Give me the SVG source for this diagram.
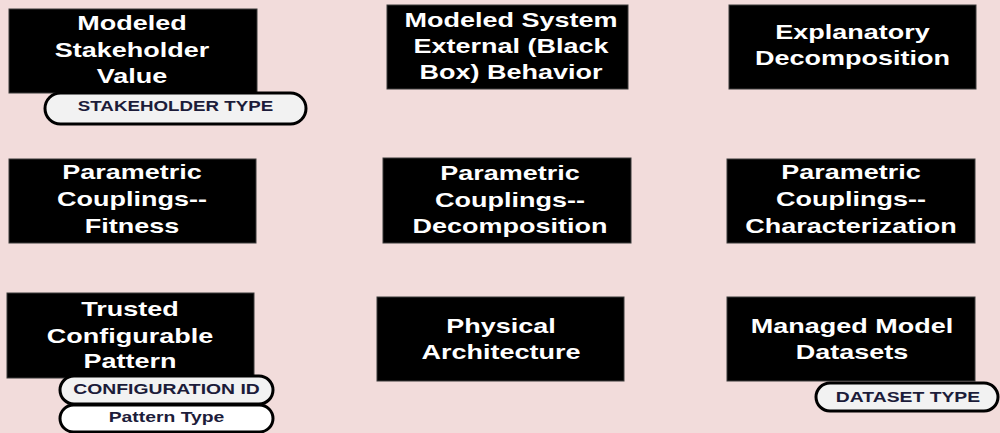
<svg xmlns="http://www.w3.org/2000/svg" width="1000" height="433" viewBox="0 0 1000 433">
<style>
.bg{fill:#f2dcdb}
.box{fill:#000;stroke:#3a3a3a;stroke-width:1}
.t{font-family:"Liberation Sans",Arial,sans-serif;font-weight:bold;font-size:20px;fill:#fff;text-anchor:middle}
.pill{fill:#f2f2f2;stroke:#000;stroke-width:3}
.pillw{fill:#fff;stroke:#000;stroke-width:3}
.pt{font-family:"Liberation Sans",Arial,sans-serif;font-weight:bold;font-size:15px;fill:#1c1c3a;text-anchor:middle}
</style>
<rect class="bg" x="0" y="0" width="1000" height="433"/>
<g id="connectors"/>
<g id="modeled-stakeholder-value">
<rect class="box" x="9" y="9" width="248" height="84"/>
<text class="t" transform="translate(132,30) scale(1.35,1)">Modeled</text>
<text class="t" transform="translate(132,57) scale(1.35,1)">Stakeholder</text>
<text class="t" transform="translate(132,83) scale(1.35,1)">Value</text>
</g>
<g id="stakeholder-type">
<rect class="pill" x="45" y="93" width="261" height="31" rx="15.5"/>
<text class="pt" transform="translate(175.5,111) scale(1.25,1)">STAKEHOLDER TYPE</text>
</g>
<g id="modeled-system-external">
<rect class="box" x="387" y="5" width="241" height="84"/>
<text class="t" transform="translate(511,27) scale(1.35,1)">Modeled System</text>
<text class="t" transform="translate(511,53) scale(1.35,1)">External (Black</text>
<text class="t" transform="translate(511,79) scale(1.35,1)">Box) Behavior</text>
</g>
<g id="explanatory-decomposition">
<rect class="box" x="729" y="5" width="247" height="84"/>
<text class="t" transform="translate(852.5,39) scale(1.35,1)">Explanatory</text>
<text class="t" transform="translate(852.5,65) scale(1.35,1)">Decomposition</text>
</g>
<g id="parametric-fitness">
<rect class="box" x="9" y="159" width="247" height="84"/>
<text class="t" transform="translate(132,179) scale(1.35,1)">Parametric</text>
<text class="t" transform="translate(132,206) scale(1.35,1)">Couplings--</text>
<text class="t" transform="translate(132,233) scale(1.35,1)">Fitness</text>
</g>
<g id="parametric-decomposition">
<rect class="box" x="383" y="158" width="248" height="85"/>
<text class="t" transform="translate(510,180) scale(1.35,1)">Parametric</text>
<text class="t" transform="translate(510,207) scale(1.35,1)">Couplings--</text>
<text class="t" transform="translate(510,233) scale(1.35,1)">Decomposition</text>
</g>
<g id="parametric-characterization">
<rect class="box" x="727" y="159" width="248" height="84"/>
<text class="t" transform="translate(851,179) scale(1.35,1)">Parametric</text>
<text class="t" transform="translate(851,206) scale(1.35,1)">Couplings--</text>
<text class="t" transform="translate(851,233) scale(1.35,1)">Characterization</text>
</g>
<g id="trusted-configurable-pattern">
<rect class="box" x="7" y="293" width="247" height="85"/>
<text class="t" transform="translate(130,316) scale(1.35,1)">Trusted</text>
<text class="t" transform="translate(130,343) scale(1.35,1)">Configurable</text>
<text class="t" transform="translate(130,368) scale(1.35,1)">Pattern</text>
</g>
<g id="configuration-id">
<rect class="pill" x="60" y="376" width="213" height="28" rx="14"/>
<text class="pt" transform="translate(166.5,394) scale(1.29,1)">CONFIGURATION ID</text>
</g>
<g id="pattern-type">
<rect class="pillw" x="60" y="405" width="213" height="27" rx="13.5"/>
<text class="pt" transform="translate(166.5,422) scale(1.29,1)">Pattern Type</text>
</g>
<g id="physical-architecture">
<rect class="box" x="377" y="297" width="247" height="84"/>
<text class="t" transform="translate(501,333) scale(1.35,1)">Physical</text>
<text class="t" transform="translate(501,359) scale(1.35,1)">Architecture</text>
</g>
<g id="managed-model-datasets">
<rect class="box" x="727" y="297" width="248" height="84"/>
<text class="t" transform="translate(852,333) scale(1.35,1)">Managed Model</text>
<text class="t" transform="translate(852,359) scale(1.35,1)">Datasets</text>
</g>
<g id="dataset-type">
<rect class="pill" x="816" y="383" width="182" height="28" rx="14"/>
<text class="pt" transform="translate(908,402) scale(1.29,1)">DATASET TYPE</text>
</g>
</svg>
